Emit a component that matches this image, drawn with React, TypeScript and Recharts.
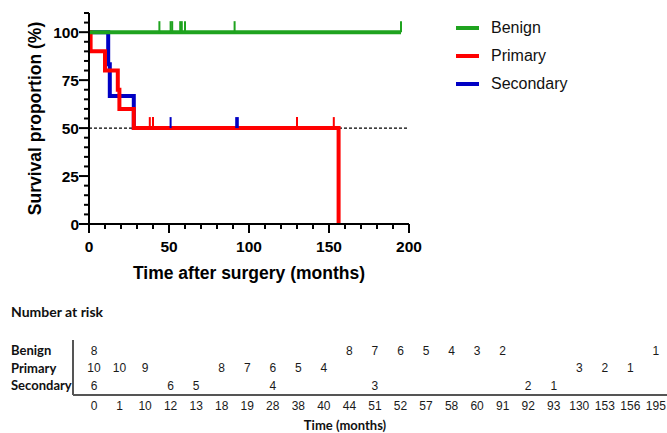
import { Line, LineChart, ReferenceLine, Scatter, ScatterChart, XAxis, YAxis } from 'recharts';

const groups = ['Benign', 'Primary', 'Secondary'];
const colors = ['#1fa31f', '#ff0000', '#0000c4'];

// Kaplan-Meier steps: time (months), survival (%), censored flag
const benignTimes = [0, 44, 51, 52, 57, 58, 60, 91, 195];
const benignSurv = [100, 100, 100, 100, 100, 100, 100, 100, 100];
const benignCens = [0, 1, 1, 1, 1, 1, 1, 1, 1];

const primaryTimes = [0, 1, 10, 18, 19, 28, 38, 40, 130, 153, 156];
const primarySurv = [100, 90, 80, 70, 60, 50, 50, 50, 50, 50, 0];
const primaryCens = [0, 0, 0, 0, 0, 0, 1, 1, 1, 1, 0];

const secondaryTimes = [0, 12, 13, 28, 51, 92, 93];
const secondarySurv = [100, 83.3, 66.7, 50, 50, 50, 50];
const secondaryCens = [0, 0, 0, 0, 1, 1, 1];

const xTicks = [0, 10, 20, 30, 40, 50, 60, 70, 80, 90, 100, 110, 120, 130, 140, 150, 160, 170, 180, 190, 200];
const yTicks = [0, 5, 10, 15, 20, 25, 30, 35, 40, 45, 50, 55, 60, 65, 70, 75, 80, 85, 90, 95, 100, 105, 110];

// Number at risk table
const riskTimes = [0, 1, 10, 12, 13, 18, 19, 28, 38, 40, 44, 51, 52, 57, 58, 60, 91, 92, 93, 130, 153, 156, 195];
const benignRisk = [8, null, null, null, null, null, null, null, null, null, 8, 7, 6, 5, 4, 3, 2, null, null, null, null, null, 1];
const primaryRisk = [10, 10, 9, null, null, 8, 7, 6, 5, 4, null, null, null, null, null, null, null, null, null, 3, 2, 1, null];
const secondaryRisk = [6, null, null, 6, 5, null, null, 4, null, null, null, 3, null, null, null, null, null, 2, 1, null, null, null, null];

const toSteps = (t: number[], s: number[], c: number[]) => t.map((x, k) => ({ t: x, s: s[k], c: c[k] }));
const benignData = toSteps(benignTimes, benignSurv, benignCens);
const primaryData = toSteps(primaryTimes, primarySurv, primaryCens);
const secondaryData = toSteps(secondaryTimes, secondarySurv, secondaryCens);

const riskRows = [benignRisk, primaryRisk, secondaryRisk].map((row, r) =>
  row.flatMap((n, i) => (n == null ? [] : [{ i, r, n }]))
);

const arial = '"Liberation Sans", Arial, sans-serif';
const lato = 'Lato, "Open Sans", sans-serif';

const censorDot = (color: string) => (p: any) => {
  if (!p.payload || !p.payload.c) return <g key={p.index} />;
  return <line key={p.index} x1={p.cx} x2={p.cx} y1={p.cy} y2={p.cy - 11} stroke={color} strokeWidth={2} />;
};

const XTick = (p: any) => {
  const v = p.payload.value;
  const major = v % 50 === 0;
  return (
    <g>
      <line x1={p.x} x2={p.x} y1={p.y} y2={p.y + (major ? 9 : 5)} stroke="#000" strokeWidth={2} />
      {major && (
        <text x={p.x} y={p.y + 27.5} textAnchor="middle" fontFamily={arial} fontWeight="bold" fontSize={15.5} fill="#000">
          {v}
        </text>
      )}
    </g>
  );
};

const YTick = (p: any) => {
  const v = p.payload.value;
  const major = v % 25 === 0 && v <= 100;
  return (
    <g>
      <line x1={p.x - (major ? 10 : 5)} x2={p.x} y1={p.y} y2={p.y} stroke="#000" strokeWidth={2} />
      {major && (
        <text x={p.x - 10} y={p.y + 5.5} textAnchor="end" fontFamily={arial} fontWeight="bold" fontSize={15.5} fill="#000">
          {v}
        </text>
      )}
    </g>
  );
};

const RiskXTick = (p: any) => (
  <text x={p.x} y={p.y + 15.3} textAnchor="middle" fontFamily={arial} fontSize={12} fill="#1a1a1a">
    {riskTimes[p.payload.value]}
  </text>
);

const RiskYTick = (p: any) => (
  <text x={11} y={p.y + 4.7} textAnchor="start" fontFamily={lato} fontWeight="bold" fontSize={13} fill="#111">
    {groups[p.payload.value]}
  </text>
);

const riskCell = (p: any) => (
  <text x={p.cx} y={p.cy + 4.3} textAnchor="middle" fontFamily={arial} fontSize={12} fill="#1a1a1a">
    {p.payload.n}
  </text>
);

export default function App() {
  return (
    <div style={{ position: 'absolute', left: 0, top: 0, width: 667, height: 433, background: '#fff' }}>
      <div style={{ position: 'absolute', left: 0, top: 0 }}>
        <LineChart width={667} height={290} margin={{ top: 13, right: 258, bottom: 0, left: 0 }}>
          <XAxis
            type="number"
            dataKey="t"
            domain={[0, 200]}
            ticks={xTicks}
            interval={0}
            height={66}
            tickSize={0}
            tickMargin={0}
            tick={<XTick />}
            axisLine={{ stroke: '#000', strokeWidth: 2 }}
            tickLine={false}
            label={{
              content: () => (
                <text x={249} y={279} textAnchor="middle" fontFamily={arial} fontWeight="bold" fontSize={17.5} fill="#000">
                  Time after surgery (months)
                </text>
              ),
            }}
          />
          <YAxis
            type="number"
            dataKey="s"
            domain={[0, 110]}
            ticks={yTicks}
            interval={0}
            width={89}
            tickSize={0}
            tickMargin={0}
            tick={<YTick />}
            axisLine={{ stroke: '#000', strokeWidth: 2 }}
            tickLine={false}
            label={{
              content: () => (
                <text
                  x={40.5}
                  y={118.5}
                  textAnchor="middle"
                  transform="rotate(-90 40.5 118.5)"
                  fontFamily={arial}
                  fontWeight="bold"
                  fontSize={17.5}
                  fill="#000"
                >
                  Survival proportion (%)
                </text>
              ),
            }}
          />
          <ReferenceLine y={50} stroke="#000" strokeWidth={1.4} strokeDasharray="3 2" />
          <Line
            data={secondaryData}
            dataKey="s"
            name={groups[2]}
            type="stepAfter"
            stroke={colors[2]}
            strokeWidth={4}
            strokeLinejoin="miter"
            dot={censorDot(colors[2])}
            activeDot={false}
            isAnimationActive={false}
          />
          <Line
            data={primaryData}
            dataKey="s"
            name={groups[1]}
            type="stepAfter"
            stroke={colors[1]}
            strokeWidth={4}
            strokeLinejoin="miter"
            dot={censorDot(colors[1])}
            activeDot={false}
            isAnimationActive={false}
          />
          <Line
            data={benignData}
            dataKey="s"
            name={groups[0]}
            type="stepAfter"
            stroke={colors[0]}
            strokeWidth={4}
            strokeLinejoin="miter"
            dot={censorDot(colors[0])}
            activeDot={false}
            isAnimationActive={false}
          />
        </LineChart>
      </div>
      <div style={{ position: 'absolute', left: 456, top: 14 }}>
        {groups.map((g, k) => (
          <div key={g} style={{ display: 'flex', alignItems: 'center', height: 28 }}>
            <div style={{ width: 23, height: 4, background: colors[k], marginRight: 12 }} />
            <span style={{ fontFamily: arial, fontSize: 16, color: '#111' }}>{g}</span>
          </div>
        ))}
      </div>
      <div style={{ position: 'absolute', left: 0, top: 290 }}>
        <ScatterChart width={667} height={143} margin={{ top: 50, right: 0, bottom: 0, left: 0 }}>
          <XAxis
            type="number"
            dataKey="i"
            domain={[-0.822, 22.435]}
            allowDataOverflow
            ticks={riskTimes.map((_, k) => k)}
            interval={0}
            height={38}
            tickSize={0}
            tickMargin={0}
            tick={<RiskXTick />}
            tickLine={false}
            axisLine={{ stroke: '#555', strokeWidth: 2 }}
          />
          <YAxis
            type="number"
            dataKey="r"
            domain={[-0.6, 2.54]}
            allowDataOverflow
            reversed
            ticks={[0, 1, 2]}
            interval={0}
            width={73}
            tickSize={0}
            tickMargin={0}
            tick={<RiskYTick />}
            tickLine={false}
            axisLine={{ stroke: '#555', strokeWidth: 2 }}
          />
          {riskRows.map((pts, r) => (
            <Scatter key={groups[r]} name={groups[r]} data={pts} shape={riskCell} isAnimationActive={false} />
          ))}
        </ScatterChart>
      </div>
      <svg width={667} height={433} style={{ position: 'absolute', left: 0, top: 0, pointerEvents: 'none' }}>
        <text x={11} y={317} fontFamily={lato} fontWeight="bold" fontSize={14} fill="#111">
          Number at risk
        </text>
        <text x={345} y={429.5} textAnchor="middle" fontFamily={lato} fontWeight="bold" fontSize={13} fill="#111">
          Time (months)
        </text>
      </svg>
    </div>
  );
}
